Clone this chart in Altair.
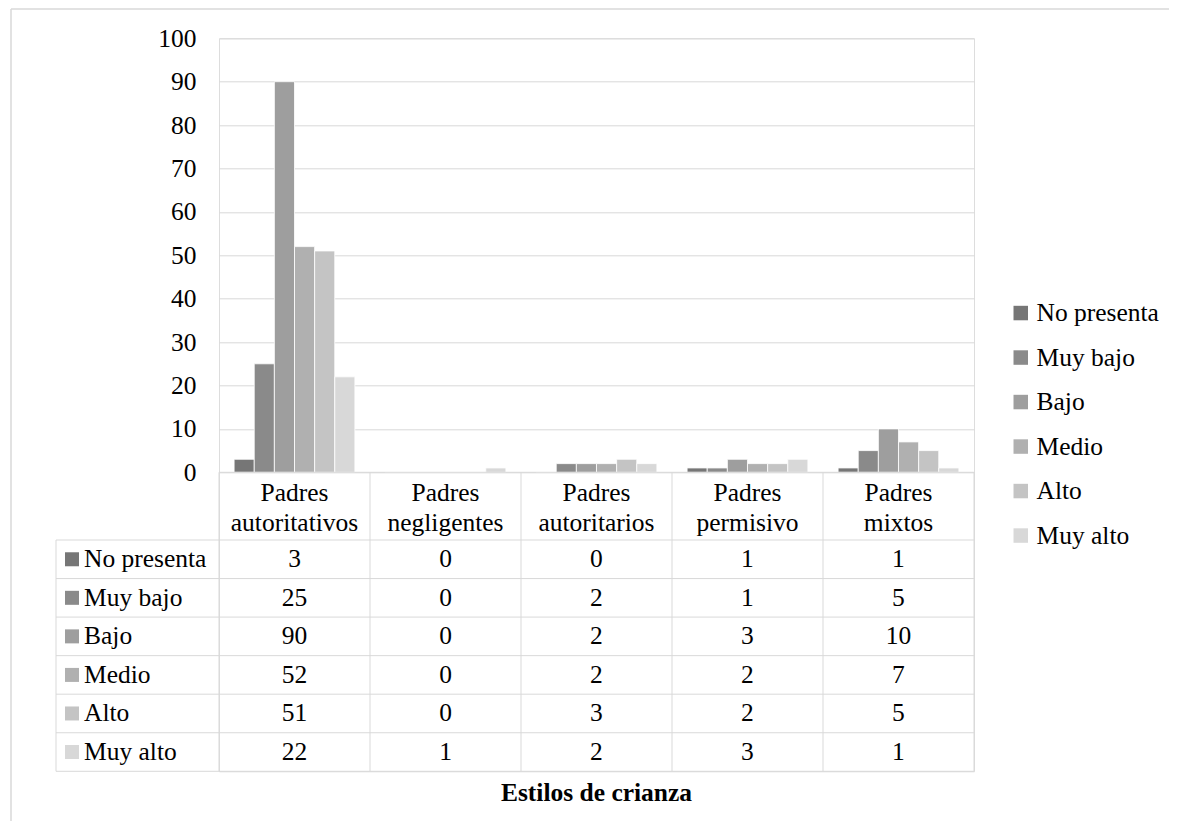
import altair as alt
import pandas as pd

categories = ["Padres autoritativos", "Padres negligentes", "Padres autoritarios",
              "Padres permisivo", "Padres mixtos"]
header_labels = ["Padres\nautoritativos", "Padres\nnegligentes", "Padres\nautoritarios",
                 "Padres\npermisivo", "Padres\nmixtos"]
series = ["No presenta", "Muy bajo", "Bajo", "Medio", "Alto", "Muy alto"]
no_presenta = [3, 0, 0, 1, 1]
muy_bajo = [25, 0, 2, 1, 5]
bajo = [90, 0, 2, 3, 10]
medio = [52, 0, 2, 2, 7]
alto = [51, 0, 3, 2, 5]
muy_alto = [22, 1, 2, 3, 1]
colors = ["#767676", "#8a8a8a", "#9e9e9e", "#b0b0b0", "#c4c4c4", "#d8d8d8"]
y_ticks = [0, 10, 20, 30, 40, 50, 60, 70, 80, 90, 100]

FONT = "Liberation Serif"
FS = 25.5
GRID = "#d9d9d9"
W, H = 755, 733
BAR_H = 434          # pixel position of value 0
ROW_TOP = 501.7      # first table row top
LEFT_COL = -163      # left edge of table label column

all_vals = [no_presenta, muy_bajo, bajo, medio, alto, muy_alto]
rows = []
for s, vals in zip(series, all_vals):
    for c, v in zip(categories, vals):
        rows.append({"cat": c, "series": s, "value": v})
df = pd.DataFrame(rows)
df_series = pd.DataFrame({"series": series})
df_cats = pd.DataFrame({"cat": categories, "label": header_labels})
one = pd.DataFrame({"k": [0]})

color_enc = alt.Color("series:N", sort=series,
                      scale=alt.Scale(domain=series, range=colors),
                      legend=alt.Legend(title=None, orient="none", legendX=789, legendY=262,
                                        symbolType="square", symbolSize=210,
                                        symbolStrokeWidth=0, labelFont=FONT,
                                        labelFontSize=FS, labelColor="#000000",
                                        rowPadding=17.5, labelOffset=3, padding=0))

bars = alt.Chart(df).mark_bar(stroke="white", strokeWidth=0.8).encode(
    x=alt.X("cat:N", sort=categories,
            scale=alt.Scale(paddingInner=0.2, paddingOuter=0.1), axis=None),
    xOffset=alt.XOffset("series:N", sort=series),
    y=alt.Y("value:Q", scale=alt.Scale(domain=[0, 100], range=[BAR_H, 0], nice=False),
            axis=alt.Axis(title=None, values=y_ticks, grid=True, gridColor=GRID,
                          gridWidth=1, domain=False, ticks=False, labelPadding=23,
                          labelFont=FONT, labelFontSize=FS, labelColor="#000000")),
    color=color_enc,
)

tx = alt.X("cat:N", sort=categories,
           scale=alt.Scale(type="band", domain=categories, paddingInner=0, paddingOuter=0),
           axis=None)
ty_scale = alt.Scale(type="band", domain=series, range=[ROW_TOP, H],
                     paddingInner=0, paddingOuter=0)
ty = alt.Y("series:N", sort=series, scale=ty_scale, axis=None)

row_lines = alt.Chart(df_series).mark_rule(color=GRID, strokeWidth=1).encode(
    y=alt.Y("series:N", sort=series, scale=ty_scale, axis=None, bandPosition=0),
    x=alt.value(LEFT_COL), x2=alt.value(W))
col_lines = alt.Chart(df_cats).mark_rule(color=GRID, strokeWidth=1).encode(
    x=alt.X("cat:N", sort=categories,
            scale=alt.Scale(type="band", domain=categories, paddingInner=0, paddingOuter=0),
            axis=None, bandPosition=0),
    y=alt.value(BAR_H), y2=alt.value(H))
right_line = alt.Chart(one).mark_rule(color=GRID, strokeWidth=1).encode(
    x=alt.value(W), y=alt.value(BAR_H), y2=alt.value(H))
left_line = alt.Chart(one).mark_rule(color=GRID, strokeWidth=1).encode(
    x=alt.value(LEFT_COL), y=alt.value(ROW_TOP), y2=alt.value(H))
bottom_line = alt.Chart(one).mark_rule(color=GRID, strokeWidth=1).encode(
    y=alt.value(H), x=alt.value(LEFT_COL), x2=alt.value(W))
top_line = alt.Chart(one).mark_rule(color=GRID, strokeWidth=1).encode(
    y=alt.value(BAR_H), x=alt.value(0), x2=alt.value(W))

keys = alt.Chart(df_series).mark_square(size=196, opacity=1, strokeWidth=0).encode(
    x=alt.value(-147), y=ty,
    color=alt.Color("series:N", sort=series,
                    scale=alt.Scale(domain=series, range=colors), legend=None))
row_labels = alt.Chart(df_series).mark_text(
    align="left", baseline="middle", font=FONT, fontSize=FS, color="#000000").encode(
    x=alt.value(-135), y=ty, text="series:N")
numbers = alt.Chart(df).mark_text(
    align="center", baseline="middle", font=FONT, fontSize=FS, color="#000000").encode(
    x=tx, y=ty, text="value:Q")
headers = alt.Chart(df_cats).mark_text(
    align="center", baseline="middle", font=FONT, fontSize=FS,
    color="#000000", lineBreak="\n", lineHeight=30).encode(
    x=tx, y=alt.value(454.7), text="label:N")
title = alt.Chart(one).mark_text(
    align="center", baseline="middle", font=FONT, fontSize=FS, fontWeight="bold",
    color="#000000").encode(
    x=alt.value(W / 2), y=alt.value(755), text=alt.value("Estilos de crianza"))

border_top = alt.Chart(one).mark_rule(color=GRID, strokeWidth=1.5).encode(
    y=alt.value(-29.3), x=alt.value(-208), x2=alt.value(W + 210))
border_left = alt.Chart(one).mark_rule(color=GRID, strokeWidth=1.5).encode(
    x=alt.value(-208), y=alt.value(-29.3), y2=alt.value(H + 70))

table = alt.layer(row_lines, col_lines, right_line, left_line, bottom_line, top_line,
                  keys, row_labels, numbers, headers, title, border_top, border_left)

chart = alt.layer(bars, table).resolve_scale(x="independent", y="independent").properties(
    width=W, height=H,
    autosize=alt.AutoSizeParams(type="none"),
    padding={"left": 211, "top": 30.3, "right": 195, "bottom": 50},
).configure_view(stroke=None).configure(background="white")

chart.save("out.html", embed_options={"renderer": "svg", "actions": False})
